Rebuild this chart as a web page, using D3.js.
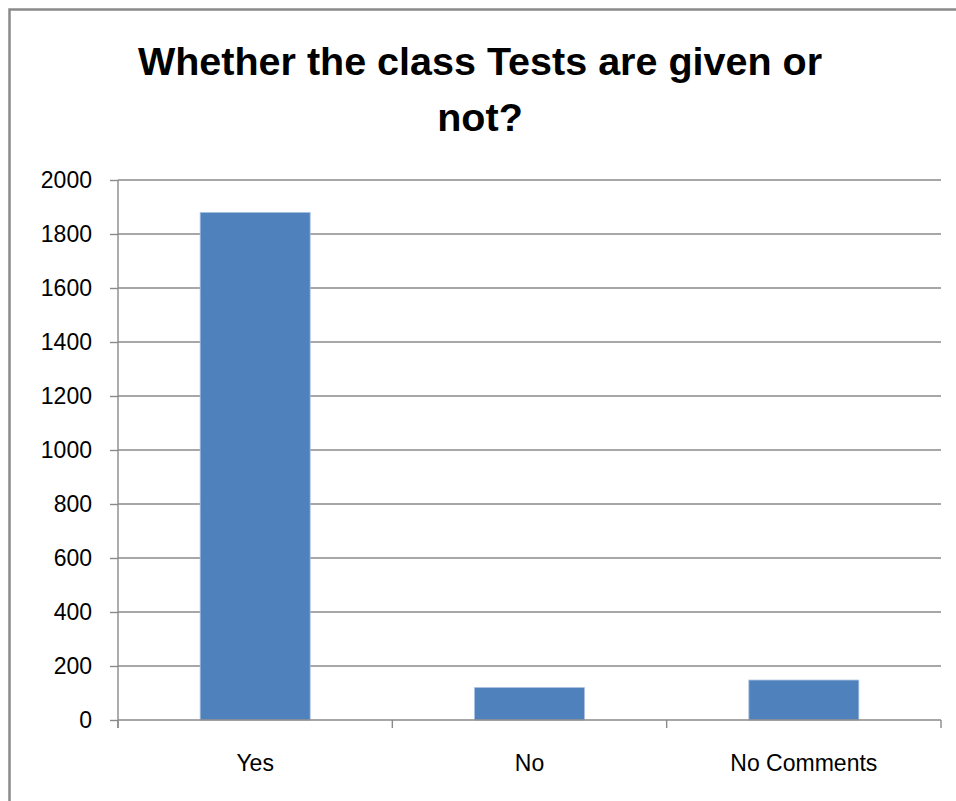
<!DOCTYPE html>
<html>
<head>
<meta charset="utf-8">
<script src="https://cdn.jsdelivr.net/npm/d3@7"></script>
<style>
  html, body { margin: 0; padding: 0; background: #fff; }
  svg { display: block; }
</style>
</head>
<body>
<svg id="chart" width="956" height="801"></svg>
<script>
const categories = ["Yes", "No", "No Comments"];
const values = [1880, 120, 148];
const yTicks = [0, 200, 400, 600, 800, 1000, 1200, 1400, 1600, 1800, 2000];
const titleLines = ["Whether the class Tests are given or", "not?"];

const svg = d3.select("#chart");
const W = 956, H = 801;
const margin = { left: 118, right: 15, top: 180, bottom: 81 };
const plotW = W - margin.left - margin.right;
const plotH = H - margin.top - margin.bottom;

// outer border
svg.append("rect")
  .attr("x", 9.5).attr("y", 9.5)
  .attr("width", W + 20).attr("height", H + 20)
  .attr("fill", "#fff")
  .attr("stroke", "#8a8a8a")
  .attr("stroke-width", 2.5);

// title
svg.append("g").selectAll("text")
  .data(titleLines)
  .join("text")
  .attr("x", 480)
  .attr("y", (d, i) => 75 + i * 56)
  .attr("text-anchor", "middle")
  .attr("font-family", "'Liberation Sans', Arial, sans-serif")
  .attr("font-weight", "bold")
  .attr("font-size", "39.5px")
  .attr("fill", "#000")
  .text(d => d);

const g = svg.append("g").attr("transform", `translate(${margin.left},${margin.top})`);

const xb = d3.scaleBand().domain(categories).range([0, plotW]);
const y = d3.scaleLinear().domain([0, 2000]).range([plotH, 0]);

// gridlines
g.append("g").selectAll("line")
  .data(yTicks.filter(t => t > 0))
  .join("line")
  .attr("x1", 0).attr("x2", plotW)
  .attr("y1", d => y(d)).attr("y2", d => y(d))
  .attr("stroke", "#8a8a8a")
  .attr("stroke-width", 1.4);

// bars
g.append("g").selectAll("rect")
  .data(values)
  .join("rect")
  .attr("x", (d, i) => xb(categories[i]) + xb.bandwidth() / 2 - 55)
  .attr("width", 110)
  .attr("y", d => y(d))
  .attr("height", d => y(0) - y(d))
  .attr("fill", "#4F81BD")
  .attr("stroke", "#a9c1e2")
  .attr("stroke-width", 0.8);

// y axis
const yAxis = d3.axisLeft(y).tickValues(yTicks).tickSize(8).tickPadding(18).tickFormat(d3.format("d"));
const ya = g.append("g").call(yAxis);
ya.select(".domain").attr("stroke", "#8a8a8a").attr("stroke-width", 1.4).attr("d", `M0,${plotH + 8}V0`);
ya.selectAll(".tick line").attr("stroke", "#8a8a8a").attr("stroke-width", 1.4);
ya.selectAll("text")
  .attr("font-family", "'Liberation Sans', Arial, sans-serif")
  .attr("font-size", "23px")
  .attr("fill", "#000");

// x axis line and ticks at band boundaries
const xa = g.append("g").attr("transform", `translate(0,${plotH})`);
xa.append("line").attr("x1", 0).attr("x2", plotW).attr("y1", 0).attr("y2", 0)
  .attr("stroke", "#8a8a8a").attr("stroke-width", 1.4);
const bounds = categories.map(c => xb(c)).concat([plotW]);
xa.selectAll("line.tk").data(bounds).join("line").attr("class", "tk")
  .attr("x1", d => d).attr("x2", d => d).attr("y1", 0).attr("y2", 8)
  .attr("stroke", "#8a8a8a").attr("stroke-width", 1.4);
xa.selectAll("text").data(categories).join("text")
  .attr("x", d => xb(d) + xb.bandwidth() / 2)
  .attr("y", 51)
  .attr("text-anchor", "middle")
  .attr("font-family", "'Liberation Sans', Arial, sans-serif")
  .attr("font-size", "23px")
  .attr("fill", "#000")
  .text(d => d);
</script>
</body>
</html>
